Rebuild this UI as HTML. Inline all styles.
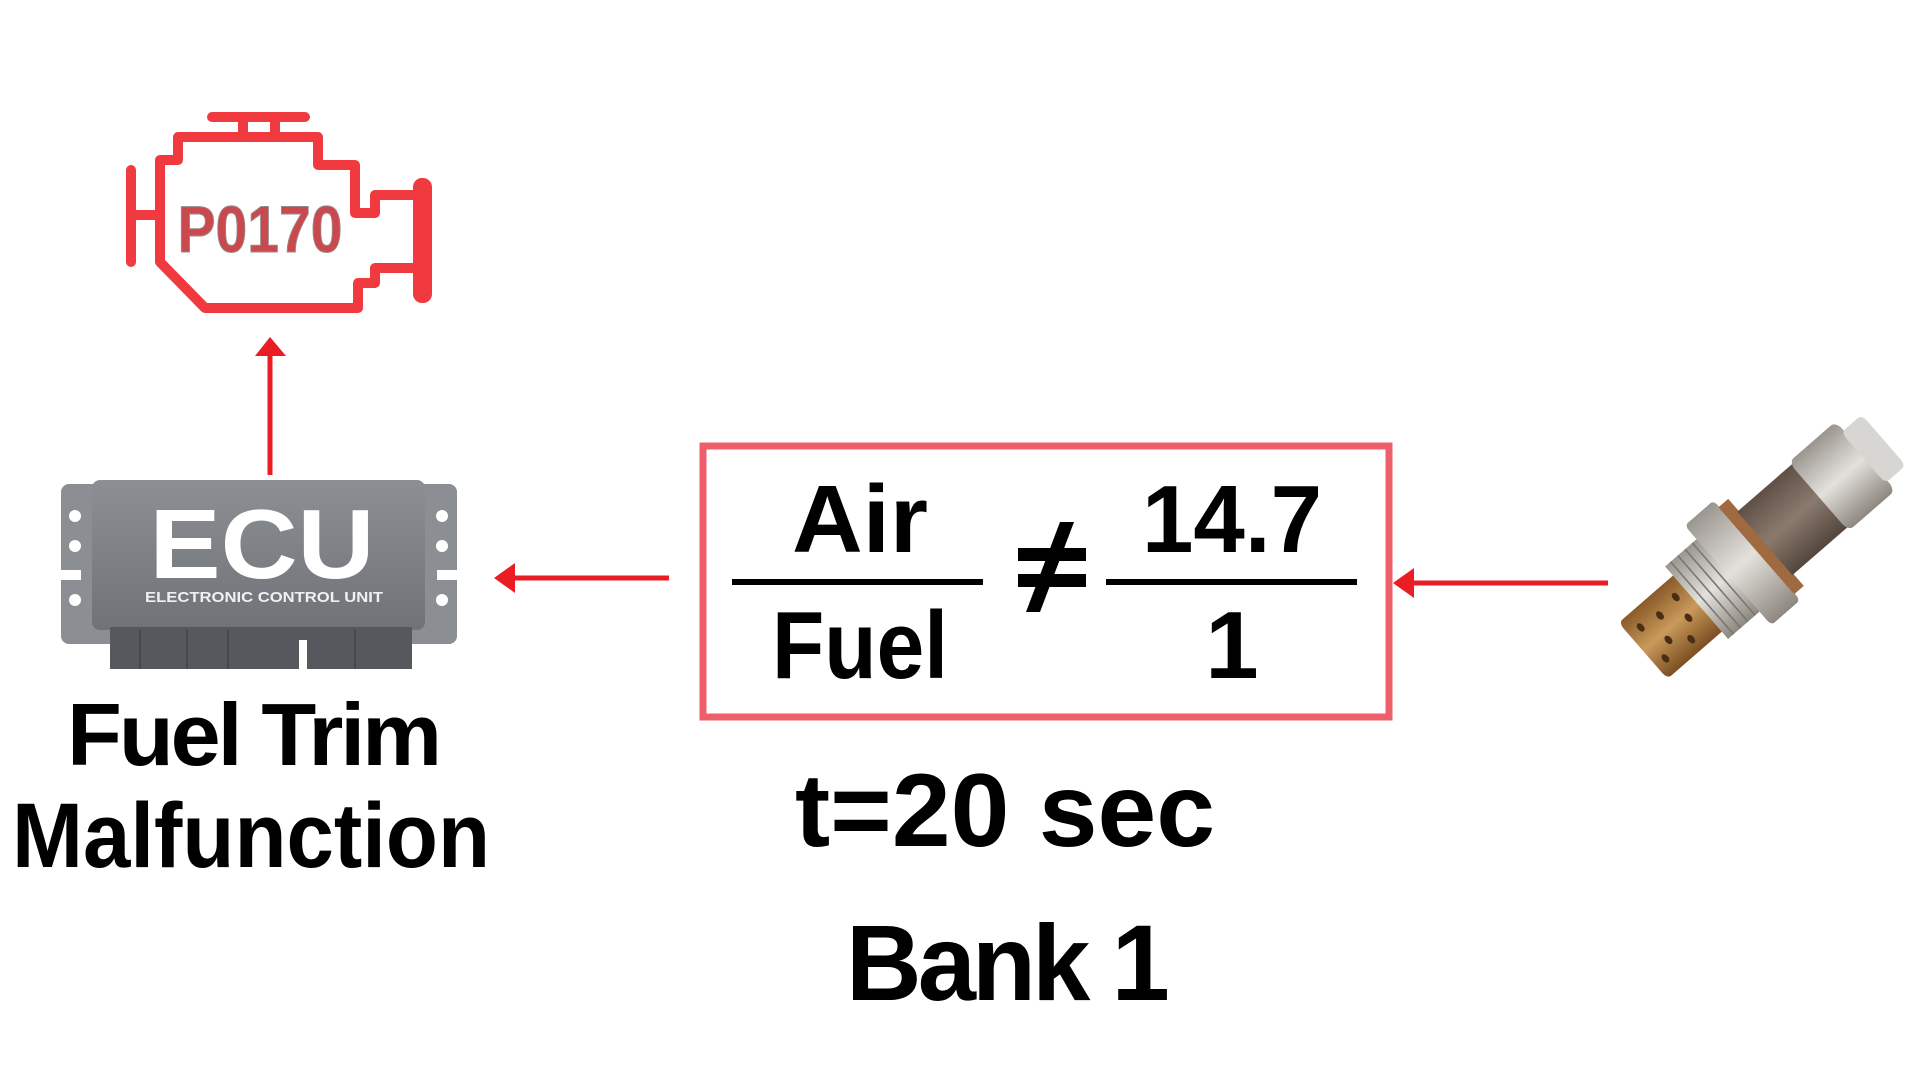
<!DOCTYPE html>
<html><head><meta charset="utf-8"><style>
html,body{margin:0;padding:0;background:#fff;}
svg{display:block}
text{font-family:"Liberation Sans",sans-serif;font-weight:bold;}
</style></head><body>
<svg width="1920" height="1080" viewBox="0 0 1920 1080" xmlns="http://www.w3.org/2000/svg">
<defs>
<linearGradient id="body" x1="0" y1="0" x2="0" y2="1"><stop offset="0" stop-color="#8c8f94"/><stop offset="1" stop-color="#6f7277"/></linearGradient>
<linearGradient id="brass" x1="0" y1="0" x2="1" y2="0"><stop offset="0" stop-color="#8a5a2a"/><stop offset="0.5" stop-color="#c99a5a"/><stop offset="1" stop-color="#7a4e22"/></linearGradient>
<linearGradient id="steel" x1="0" y1="0" x2="1" y2="0"><stop offset="0" stop-color="#9a958f"/><stop offset="0.5" stop-color="#e4e1dc"/><stop offset="1" stop-color="#8d877f"/></linearGradient>
<linearGradient id="brown" x1="0" y1="0" x2="1" y2="0"><stop offset="0" stop-color="#5f4f45"/><stop offset="0.5" stop-color="#8a7a6e"/><stop offset="1" stop-color="#54463d"/></linearGradient>
</defs>

<!-- Engine icon -->
<g fill="none" stroke="#f03a3f" stroke-width="10" stroke-linejoin="round" stroke-linecap="round">
<line x1="212" y1="117" x2="305" y2="117"/>
<path d="M243 118 V137 M275 118 V137"/>
<path d="M160 205 V160 H178 V137 H318 V165 H355 V213 H375 V195 H420 M160 205 V262 L205 308 H358 V283 H375 V268 H420"/>
<line x1="131" y1="170" x2="131" y2="262"/>
<line x1="131" y1="215" x2="160" y2="215"/>
<rect x="418" y="183" width="9" height="115" rx="4"/>
</g>
<text x="260" y="252" font-size="66" fill="#c9494e" text-anchor="middle" textLength="165" lengthAdjust="spacingAndGlyphs" stroke="#9a8a8a" stroke-width="1">P0170</text>

<!-- up arrow -->
<line x1="270" y1="475" x2="270" y2="350" stroke="#ea1c24" stroke-width="5"/>
<polygon points="255,356 270,337 286,356" fill="#ea1c24"/>

<!-- ECU -->
<rect x="61" y="484" width="396" height="160" rx="8" fill="#8b8e93"/>
<rect x="92" y="480" width="333" height="150" rx="8" fill="url(#body)"/>
<g fill="#fff"><circle cx="75" cy="516" r="6"/><circle cx="75" cy="546" r="6"/><circle cx="75" cy="600" r="6"/><circle cx="442" cy="516" r="6"/><circle cx="442" cy="546" r="6"/><circle cx="442" cy="600" r="6"/></g>
<rect x="61" y="570" width="20" height="10" fill="#fff"/><rect x="437" y="570" width="20" height="10" fill="#fff"/>
<text x="262" y="578" font-size="98" fill="#fff" text-anchor="middle" textLength="225" lengthAdjust="spacingAndGlyphs">ECU</text>
<text x="264" y="602" font-size="15" fill="#f0f0f0" text-anchor="middle" textLength="238" lengthAdjust="spacingAndGlyphs">ELECTRONIC CONTROL UNIT</text>
<rect x="110" y="627" width="302" height="42" fill="#55585d"/>
<g stroke="#45484c" stroke-width="2"><line x1="140" y1="630" x2="140" y2="669"/><line x1="187" y1="630" x2="187" y2="669"/><line x1="228" y1="630" x2="228" y2="669"/><line x1="355" y1="630" x2="355" y2="669"/></g>
<rect x="299" y="640" width="8" height="31" fill="#fff"/>

<!-- labels left -->
<text x="253" y="765" font-size="88" fill="#000" text-anchor="middle" textLength="372" lengthAdjust="spacingAndGlyphs" letter-spacing="-3">Fuel Trim</text>
<text x="251" y="867" font-size="92" fill="#000" text-anchor="middle" textLength="478" lengthAdjust="spacingAndGlyphs">Malfunction</text>

<!-- left arrow -->
<line x1="669" y1="578" x2="508" y2="578" stroke="#ea1c24" stroke-width="5"/>
<polygon points="494,578 515,563 515,593" fill="#ea1c24"/>

<!-- box -->
<rect x="703" y="446" width="686" height="271" fill="none" stroke="#ee5f6b" stroke-width="7"/>
<text x="860" y="552" font-size="96" fill="#000" text-anchor="middle" textLength="136" lengthAdjust="spacingAndGlyphs">Air</text>
<rect x="732" y="579" width="251" height="6" fill="#000"/>
<text x="860" y="678" font-size="96" fill="#000" text-anchor="middle" textLength="176" lengthAdjust="spacingAndGlyphs">Fuel</text>
<g fill="#000"><rect x="1018" y="548" width="68" height="13"/><rect x="1018" y="574" width="68" height="13"/><polygon points="1060,522 1074,522 1040,612 1026,612"/></g>
<text x="1232" y="552" font-size="96" fill="#000" text-anchor="middle" textLength="180" lengthAdjust="spacingAndGlyphs">14.7</text>
<rect x="1106" y="579" width="251" height="6" fill="#000"/>
<text x="1232" y="678" font-size="96" fill="#000" text-anchor="middle">1</text>

<!-- right arrow -->
<line x1="1608" y1="583" x2="1408" y2="583" stroke="#ea1c24" stroke-width="5"/>
<polygon points="1393,583 1414,568 1414,598" fill="#ea1c24"/>

<!-- texts -->
<text x="1005" y="846" font-size="104" fill="#000" text-anchor="middle" textLength="420" lengthAdjust="spacingAndGlyphs">t=20 sec</text>
<text x="1006" y="1000" font-size="108" fill="#000" text-anchor="middle" textLength="320" lengthAdjust="spacingAndGlyphs" letter-spacing="-4">Bank 1</text>

<!-- O2 sensor -->
<g transform="translate(1763,545) rotate(49) scale(1.2,0.8) translate(0,55)">
<rect x="-30" y="50" width="62" height="95" rx="6" fill="url(#brass)"/>
<g fill="#4a2e14"><circle cx="-15" cy="70" r="4"/><circle cx="5" cy="75" r="4"/><circle cx="20" cy="90" r="4"/><circle cx="-12" cy="100" r="4"/><circle cx="8" cy="112" r="4"/><circle cx="-15" cy="128" r="4"/><circle cx="18" cy="130" r="4"/></g>
<rect x="-40" y="0" width="80" height="55" fill="url(#steel)"/>
<g stroke="#777" stroke-width="2"><line x1="-40" y1="10" x2="40" y2="10"/><line x1="-40" y1="22" x2="40" y2="22"/><line x1="-40" y1="34" x2="40" y2="34"/><line x1="-40" y1="46" x2="40" y2="46"/></g>
<rect x="-55" y="-45" width="110" height="48" rx="5" fill="url(#steel)"/>
<rect x="-48" y="-60" width="96" height="16" fill="#a06a40"/>
<rect x="-35" y="-150" width="70" height="92" fill="url(#brown)"/>
<rect x="-38" y="-225" width="76" height="78" rx="8" fill="url(#steel)"/>
<rect x="-28" y="-255" width="56" height="34" rx="6" fill="#d8d6d2"/>
</g>
</svg>
</body></html>
